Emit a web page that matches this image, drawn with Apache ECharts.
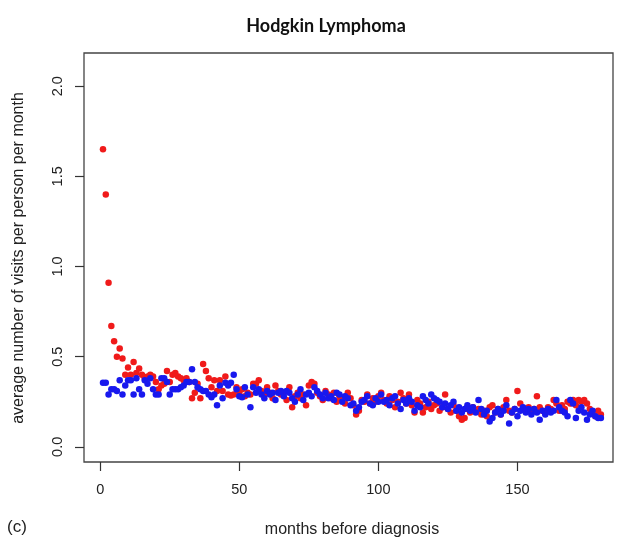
<!DOCTYPE html>
<html>
<head>
<meta charset="utf-8">
<script src="https://cdn.jsdelivr.net/npm/echarts@6/dist/echarts.min.js"></script>
<style>
  html, body { margin: 0; padding: 0; background: #fff; }
  #chart { width: 617px; height: 543px; }
</style>
</head>
<body>
<div id="chart"></div>
<script>
// Average visits per person per month, by months before diagnosis (1..180)
const redVisits = [
  1.65,1.40,0.91,0.67,0.585,0.50,0.545,0.49,0.40,0.44,0.40,0.47,0.41,0.435,0.40,0.38,0.39,0.40,0.39,0.36,
  0.32,0.34,0.35,0.42,0.36,0.40,0.41,0.39,0.38,0.37,0.38,0.36,0.27,0.30,0.35,0.27,0.46,0.42,0.38,0.33,
  0.37,0.31,0.37,0.31,0.39,0.29,0.285,0.29,0.33,0.30,0.32,0.28,0.30,0.29,0.35,0.35,0.37,0.31,0.29,0.33,
  0.30,0.27,0.34,0.31,0.29,0.30,0.26,0.33,0.22,0.28,0.30,0.27,0.29,0.23,0.34,0.36,0.35,0.30,0.28,0.26,
  0.31,0.29,0.27,0.30,0.25,0.28,0.26,0.24,0.30,0.27,0.23,0.18,0.20,0.26,0.25,0.29,0.24,0.27,0.25,0.28,
  0.30,0.26,0.24,0.28,0.26,0.22,0.25,0.30,0.27,0.24,0.29,0.23,0.19,0.26,0.24,0.19,0.22,0.25,0.21,0.23,
  0.24,0.20,0.22,0.29,0.21,0.19,0.23,0.20,0.17,0.15,0.16,0.21,0.19,0.22,0.20,0.21,0.18,0.20,0.17,0.22,
  0.23,0.19,0.21,0.18,0.22,0.26,0.20,0.19,0.21,0.31,0.24,0.21,0.20,0.22,0.19,0.21,0.28,0.22,0.20,0.19,
  0.22,0.21,0.26,0.24,0.20,0.23,0.21,0.25,0.24,0.26,0.23,0.26,0.25,0.26,0.24,0.21,0.19,0.17,0.20,0.18
];
const blueVisits = [
  0.355,0.355,0.29,0.32,0.32,0.31,0.37,0.29,0.34,0.37,0.37,0.29,0.38,0.32,0.29,0.37,0.35,0.38,0.32,0.29,
  0.29,0.38,0.38,0.36,0.29,0.32,0.32,0.32,0.33,0.34,0.36,0.36,0.43,0.36,0.33,0.32,0.31,0.31,0.29,0.275,
  0.29,0.23,0.34,0.27,0.355,0.34,0.355,0.40,0.32,0.28,0.275,0.33,0.29,0.22,0.33,0.30,0.32,0.29,0.27,0.31,
  0.29,0.30,0.26,0.30,0.31,0.28,0.31,0.30,0.27,0.25,0.29,0.32,0.26,0.29,0.30,0.28,0.33,0.31,0.29,0.27,
  0.30,0.27,0.28,0.26,0.30,0.29,0.25,0.28,0.27,0.23,0.24,0.20,0.22,0.25,0.26,0.28,0.24,0.23,0.27,0.25,
  0.29,0.25,0.26,0.23,0.27,0.28,0.24,0.21,0.26,0.24,0.27,0.25,0.20,0.23,0.22,0.28,0.26,0.24,0.29,0.27,
  0.26,0.25,0.22,0.24,0.21,0.23,0.25,0.20,0.22,0.19,0.21,0.23,0.20,0.22,0.19,0.26,0.21,0.18,0.20,0.14,
  0.16,0.19,0.21,0.18,0.20,0.23,0.13,0.19,0.21,0.17,0.20,0.22,0.19,0.21,0.18,0.21,0.19,0.15,0.20,0.18,
  0.21,0.19,0.20,0.26,0.22,0.20,0.19,0.17,0.26,0.24,0.16,0.20,0.22,0.19,0.15,0.18,0.20,0.17,0.16,0.16
];
const xTicks = [0, 50, 100, 150];
const yTicks = [0, 0.5, 1.0, 1.5, 2.0];
const chartTitle = 'Hodgkin Lymphoma';
const xTitle = 'months before diagnosis';
const yTitle = 'average number of visits per person per month';
const panelTag = '(c)';

const months = redVisits.map((_, i) => i + 1);
const pairs = vals => months.map((m, i) => [m, vals[i]]);

const FONT = '"Liberation Sans", Arial, sans-serif';
const chart = echarts.init(document.getElementById('chart'), null, { renderer: 'canvas' });

chart.setOption({
  animation: false,
  backgroundColor: '#ffffff',
  grid: {
    left: 84, right: 4, top: 53, bottom: 81,
    show: true, borderColor: '#444', borderWidth: 1.3, backgroundColor: 'transparent'
  },
  xAxis: {
    type: 'value', min: -5.83, max: 184.35,
    axisLine: { show: false, onZero: false },
    splitLine: { show: false },
    axisTick: { show: true, length: 9, customValues: xTicks, lineStyle: { color: '#333', width: 1.2 } },
    axisLabel: { customValues: xTicks, margin: 20, color: '#222', fontFamily: FONT, fontSize: 14.5 }
  },
  yAxis: {
    type: 'value', min: -0.084, max: 2.184,
    axisLine: { show: false, onZero: false },
    splitLine: { show: false },
    axisTick: { show: true, length: 9, customValues: yTicks, lineStyle: { color: '#333', width: 1.2 } },
    axisLabel: {
      customValues: yTicks, rotate: 90, margin: 19, color: '#222',
      fontFamily: FONT, fontSize: 14.5, formatter: v => v.toFixed(1)
    }
  },
  graphic: [
    { type: 'text', x: 326, y: 26, style: { text: chartTitle, font: 'bold 18px Lato, "Open Sans", sans-serif', fill: '#111', align: 'center', verticalAlign: 'middle' } },
    { type: 'text', x: 352, y: 530, style: { text: xTitle, font: '16px ' + FONT, fill: '#222', align: 'center', verticalAlign: 'middle' } },
    { type: 'text', x: 19, y: 258, rotation: Math.PI / 2, style: { text: yTitle, font: '16px ' + FONT, fill: '#222', align: 'center', verticalAlign: 'middle' } },
    { type: 'text', x: 7, y: 527, style: { text: panelTag, font: '17px ' + FONT, fill: '#222', align: 'left', verticalAlign: 'middle' } }
  ],
  series: [
    { type: 'scatter', data: pairs(redVisits), symbolSize: 6.5, itemStyle: { color: '#f01a1a', opacity: 1 }, z: 2 },
    { type: 'scatter', data: pairs(blueVisits), symbolSize: 6.5, itemStyle: { color: '#1818ee', opacity: 1 }, z: 3 }
  ]
});
</script>
</body>
</html>
